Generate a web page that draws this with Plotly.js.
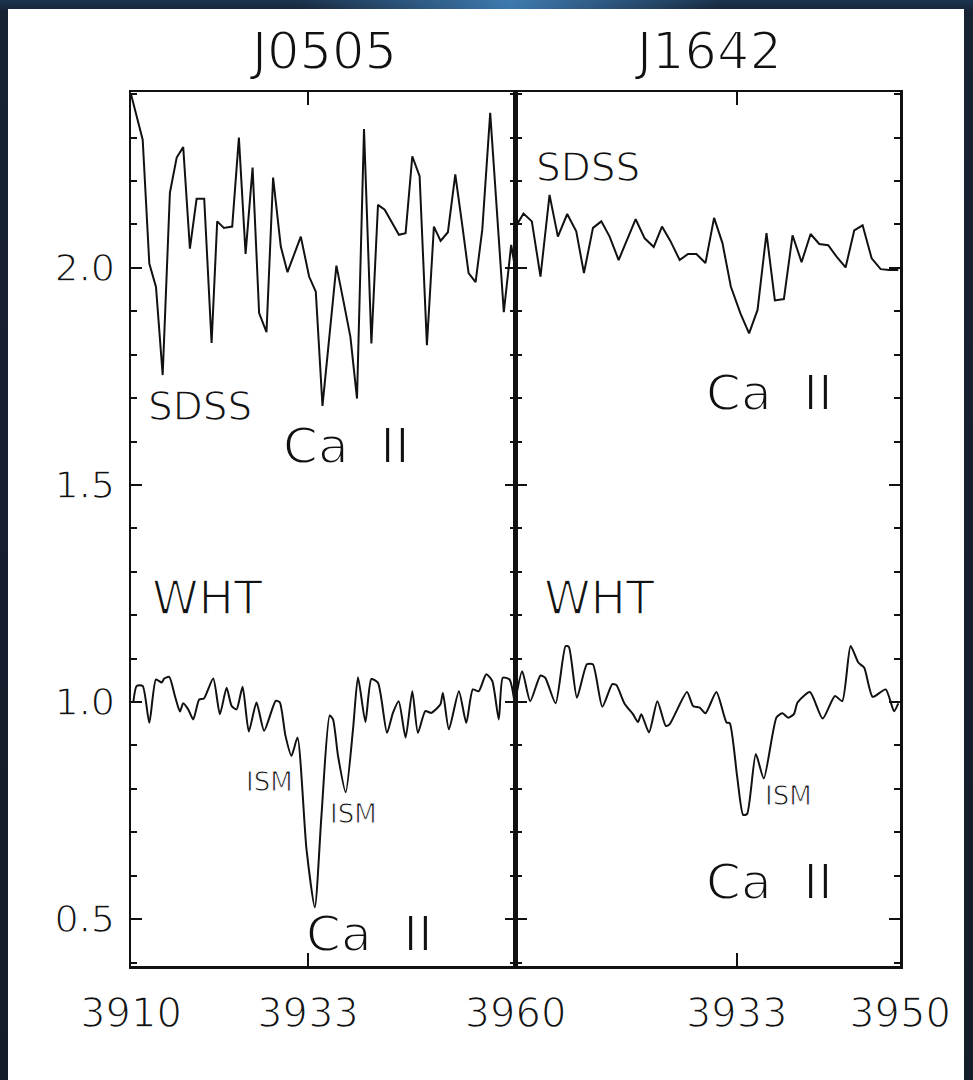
<!DOCTYPE html>
<html>
<head>
<meta charset="utf-8">
<script src="https://cdn.plot.ly/plotly-3.0.1.min.js"></script>
<style>
  html, body { margin: 0; padding: 0; width: 973px; height: 1080px; overflow: hidden; }
  body { background: linear-gradient(180deg, #1d3550 0px, #172233 12px, #151c29 100%); }
  #glow { position: absolute; left: 300px; top: 0; width: 420px; height: 10px;
          background: linear-gradient(90deg, rgba(40,90,140,0), rgba(70,140,200,0.8), rgba(40,90,140,0)); }
  #chart { position: absolute; left: 8px; top: 9px; width: 956px; height: 1071px; background: #fff; }
  /* thin the glyphs a little, like the light lettering of the original */
  #chart svg text { stroke: #ffffff; stroke-width: 0.036em; }
</style>
</head>
<body>
<div id="glow"></div>
<div id="chart"></div>
<script>
// ---- data (wavelength in Å, normalised flux; SDSS offset by +1) ----
const j0505_sdss_wave = [3910.0, 3911.52, 3912.38, 3913.25, 3914.12, 3915.06, 3915.94, 3916.79, 3917.66, 3918.53,
  3919.52, 3920.48, 3921.21, 3922.08, 3923.16, 3924.03, 3924.90, 3925.81, 3926.66, 3927.62,
  3928.48, 3929.48, 3930.35, 3931.21, 3932.08, 3933.16, 3934.03, 3934.90, 3935.81, 3936.71,
  3937.62, 3938.53, 3939.39, 3940.30, 3941.26, 3942.12, 3942.99, 3943.92, 3944.84, 3945.71,
  3946.58, 3947.53, 3948.48, 3949.39, 3950.26, 3951.21, 3952.17, 3953.04, 3953.90, 3954.81,
  3955.68, 3956.71, 3957.60, 3958.48, 3959.44, 3959.94];
const j0505_sdss_flux = [2.40, 2.295, 2.01, 1.956, 1.753, 2.173, 2.254, 2.278, 2.044, 2.159,
  2.159, 1.827, 2.107, 2.092, 2.095, 2.30, 2.032, 2.231, 1.896, 1.852,
  2.208, 2.049, 1.99, 2.03, 2.072, 1.98, 1.945, 1.682, 1.844, 2.005,
  1.924, 1.841, 1.699, 2.32, 1.826, 2.145, 2.134, 2.104, 2.076, 2.08,
  2.257, 2.211, 1.822, 2.095, 2.062, 2.082, 2.215, 2.103, 1.988, 1.967,
  2.088, 2.357, 2.127, 1.898, 2.053, 2.0];

const j0505_wht_wave = [3910.30, 3910.74, 3911.52, 3912.38, 3913.25, 3913.99, 3914.32, 3914.97, 3915.71, 3916.36,
  3916.79, 3917.44, 3918.09, 3918.87, 3919.48, 3920.69, 3921.56, 3922.43, 3923.08, 3923.73,
  3924.51, 3925.32, 3926.32, 3927.31, 3928.83, 3929.35, 3930.09, 3930.87, 3931.65, 3932.82,
  3933.90, 3934.77, 3935.84, 3936.27, 3936.92, 3937.92, 3938.87, 3939.52, 3940.48, 3941.26,
  3942.12, 3943.29, 3944.06, 3944.81, 3945.71, 3946.58, 3947.31, 3948.27, 3949.05, 3950.22,
  3950.56, 3951.34, 3952.64, 3953.60, 3954.45, 3955.23, 3956.19, 3956.97, 3957.83, 3958.35,
  3959.22, 3959.87];
const j0505_wht_flux = [1.0, 1.037, 1.037, 0.952, 1.052, 1.045, 1.054, 1.058, 1.014, 0.978,
  0.997, 0.983, 0.96, 1.006, 1.008, 1.054, 0.972, 1.033, 0.991, 0.983,
  1.035, 0.932, 0.999, 0.934, 1.003, 0.999, 0.922, 0.876, 0.918, 0.661,
  0.527, 0.739, 0.969, 0.96, 0.876, 0.792, 0.937, 1.057, 0.954, 1.053,
  1.044, 0.929, 0.975, 1.002, 0.918, 1.025, 0.929, 0.979, 0.975, 0.994,
  1.021, 0.937, 1.025, 0.952, 1.029, 1.025, 1.064, 1.049, 0.96, 1.056,
  1.052, 1.0];

const j1642_sdss_wave = [3910.24, 3910.83, 3911.70, 3912.60, 3913.54, 3914.41, 3915.38, 3916.32, 3917.12, 3918.06,
  3918.93, 3919.79, 3920.73, 3921.63, 3922.50, 3923.44, 3924.38, 3925.24, 3926.11, 3927.08,
  3927.95, 3928.82, 3929.76, 3930.66, 3931.53, 3932.40, 3933.40, 3934.30, 3935.18, 3936.11,
  3936.98, 3937.92, 3938.82, 3939.76, 3940.70, 3941.60, 3942.53, 3943.40, 3944.34, 3945.24,
  3946.11, 3947.05, 3947.99, 3948.89, 3949.82];
const j1642_sdss_flux = [2.103, 2.125, 2.107, 1.98, 2.168, 2.072, 2.124, 2.084, 1.988, 2.092,
  2.107, 2.072, 2.018, 2.065, 2.112, 2.068, 2.048, 2.095, 2.062, 2.018,
  2.032, 2.032, 2.011, 2.115, 2.057, 1.957, 1.895, 1.849, 1.903, 2.080,
  1.925, 1.928, 2.075, 2.013, 2.078, 2.055, 2.052, 2.026, 2.001, 2.086,
  2.098, 2.022, 1.997, 1.995, 1.995];

const j1642_wht_wave = [3910.07, 3910.70, 3911.53, 3912.60, 3913.09, 3914.17, 3915.21, 3915.55, 3916.39, 3917.43,
  3918.05, 3919.03, 3920.07, 3920.49, 3921.35, 3922.22, 3922.74, 3923.09, 3923.89, 3924.76,
  3925.63, 3926.04, 3927.84, 3928.47, 3929.17, 3929.76, 3930.90, 3931.95, 3932.29, 3933.05,
  3933.68, 3934.09, 3935.00, 3935.83, 3937.16, 3937.78, 3938.36, 3938.96, 3939.34, 3940.63,
  3941.95, 3943.23, 3943.99, 3944.86, 3945.66, 3946.28, 3947.16, 3948.51, 3949.38, 3949.82];
const j1642_wht_flux = [1.014, 1.071, 1.002, 1.061, 1.056, 0.997, 1.129, 1.127, 1.010, 1.087,
  1.087, 0.989, 1.041, 1.039, 0.996, 0.972, 0.954, 0.972, 0.930, 1.002,
  0.945, 0.949, 1.023, 0.991, 0.987, 0.974, 1.023, 0.953, 0.951, 0.830,
  0.740, 0.742, 0.880, 0.824, 0.965, 0.974, 0.964, 0.972, 0.999, 1.023,
  0.962, 1.014, 1.002, 1.129, 1.091, 1.079, 1.012, 1.029, 0.979, 0.997];

const panelTitles = ["J0505", "J1642"];
const xTicks1 = [3910, 3933, 3960];
const xTicks2 = [3933, 3950];
const yTicks = [0.5, 1.0, 1.5, 2.0];
const yTickText = ["0.5", "1.0", "1.5", "2.0"];

// ---- styling ----
const FONT = "DejaVu Sans, sans-serif";
const INK = "#111";
const lineStyle = {color: INK, width: 2};

const traces = [
  {x: j0505_sdss_wave, y: j0505_sdss_flux, xaxis: "x", yaxis: "y", mode: "lines", line: lineStyle},
  {x: j0505_wht_wave, y: j0505_wht_flux, xaxis: "x", yaxis: "y", mode: "lines", line: Object.assign({shape: "spline", smoothing: 0.6}, lineStyle)},
  {x: j1642_sdss_wave, y: j1642_sdss_flux, xaxis: "x2", yaxis: "y2", mode: "lines", line: lineStyle},
  {x: j1642_wht_wave, y: j1642_wht_flux, xaxis: "x2", yaxis: "y2", mode: "lines", line: Object.assign({shape: "spline", smoothing: 0.6}, lineStyle)}
];

const axisCommon = {
  showgrid: false, zeroline: false, showline: true, linecolor: INK, linewidth: 2.5,
  mirror: "ticks", ticks: "inside", tickcolor: INK, tickwidth: 2
};
const yCommon = Object.assign({}, axisCommon, {
  range: [0.392, 2.405], tickmode: "array", tickvals: yTicks, ticktext: yTickText, ticklen: 11,
  minor: {dtick: 0.1, tick0: 0, ticks: "inside", ticklen: 6, tickcolor: INK, tickwidth: 2, showgrid: false}
});

function label(text, xref, yref, x, y, size) {
  return {text: text, xref: xref, yref: yref, x: x, y: y, showarrow: false,
          xanchor: "center", yanchor: "middle", font: {family: FONT, size: size, color: INK}};
}

const annotations = [
  {text: panelTitles[0], xref: "x domain", yref: "paper", x: 0.5, y: 1, yanchor: "middle", yshift: 41,
   showarrow: false, font: {family: FONT, size: 51, color: INK}},
  {text: panelTitles[1], xref: "x2 domain", yref: "paper", x: 0.5, y: 1, yanchor: "middle", yshift: 41,
   showarrow: false, font: {family: FONT, size: 51, color: INK}},
  label("SDSS", "x", "y", 3918.96, 1.680, 39),
  label("Ca  II", "x", "y", 3938.05, 1.590, 50),
  label("WHT", "x", "y", 3920.0, 1.241, 47),
  label("ISM", "x", "y", 3928.05, 0.815, 26),
  label("ISM", "x", "y", 3938.96, 0.742, 26),
  label("Ca  II", "x", "y", 3941.04, 0.466, 50),
  label("SDSS", "x2", "y2", 3917.5, 2.232, 39),
  label("Ca  II", "x2", "y2", 3936.46, 1.712, 50),
  label("WHT", "x2", "y2", 3918.75, 1.241, 47),
  label("ISM", "x2", "y2", 3938.44, 0.783, 26),
  label("Ca  II", "x2", "y2", 3936.46, 0.585, 50)
];

const layout = {
  width: 956, height: 1071,
  margin: {l: 123, r: 64, t: 83, b: 114},
  paper_bgcolor: "#ffffff", plot_bgcolor: "#ffffff",
  showlegend: false,
  xaxis: Object.assign({}, axisCommon, {
    domain: [0, 0.5], range: [3910, 3960], tickmode: "array", tickvals: xTicks1,
    ticktext: xTicks1.map(String), ticklen: 13, anchor: "y",
    tickfont: {family: FONT, size: 40, color: INK}, ticklabelstandoff: 10
  }),
  xaxis2: Object.assign({}, axisCommon, {
    domain: [0.5, 1], range: [3910, 3950], tickmode: "array", tickvals: xTicks2,
    ticktext: xTicks2.map(String), ticklen: 13, anchor: "y2",
    tickfont: {family: FONT, size: 40, color: INK}, ticklabelstandoff: 10
  }),
  yaxis: Object.assign({}, yCommon, {anchor: "x", tickfont: {family: FONT, size: 38, color: INK}, ticklabelstandoff: 6}),
  yaxis2: Object.assign({}, yCommon, {anchor: "x2", matches: "y", showticklabels: false}),
  annotations: annotations
};

Plotly.newPlot("chart", traces, layout, {displayModeBar: false, staticPlot: true});
</script>
</body>
</html>
